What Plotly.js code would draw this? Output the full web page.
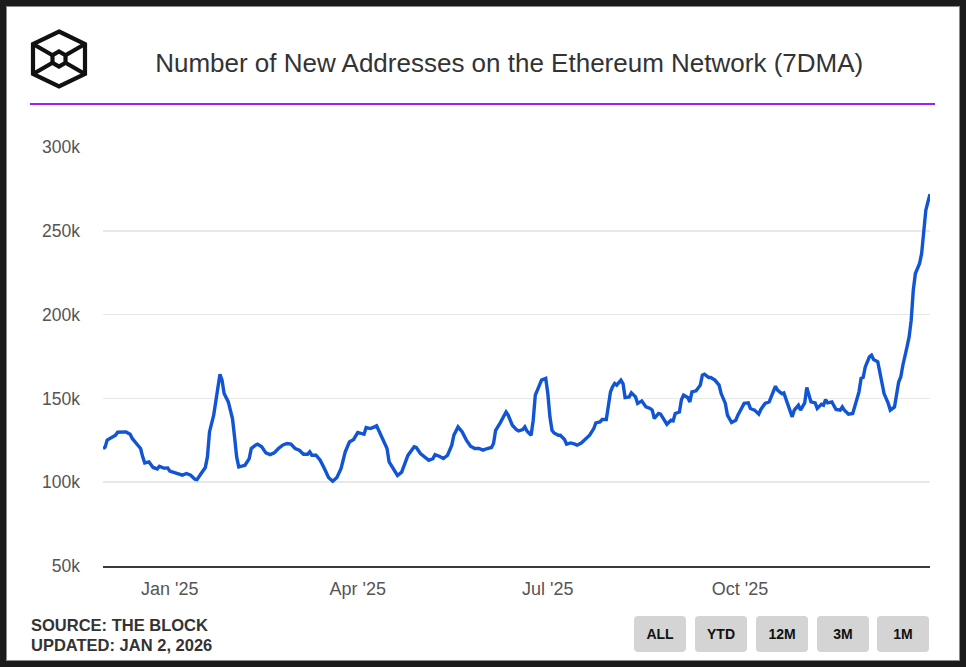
<!DOCTYPE html>
<html>
<head>
<meta charset="utf-8">
<script src="https://cdn.plot.ly/plotly-3.0.1.min.js"></script>
<style>
  html, body { margin:0; padding:0; width:966px; height:667px; background:#1b1b1b; overflow:hidden; font-family:"Liberation Sans", Arial, Helvetica, sans-serif; }
  #card { position:absolute; left:6px; top:6px; width:952px; height:653px; background:#fff; border:1px solid #8a8a8a; }
  #chart { position:absolute; left:6px; top:6px; width:953px; height:654px; }
  #logo { position:absolute; left:0; top:0; }
  #rule { position:absolute; left:30px; top:103px; width:905px; height:2px; background:#a020f0; }
  #source { position:absolute; left:31px; top:615px; font-weight:bold; font-size:16.5px; line-height:20px; color:#333; }
  .btn { position:absolute; top:616px; width:52px; height:36px; background:#d4d4d4; border-radius:4px; font-weight:bold; font-size:14px; color:#111; text-align:center; line-height:36px; }
</style>
</head>
<body>
<div id="card"></div>
<div id="chart"></div>
<svg id="logo" width="120" height="100">
  <g fill="none" stroke="#111" stroke-width="4.2" stroke-linejoin="miter">
    <path d="M59 31.5 L85 44 L85 74 L59 86.5 L33 74 L33 44 Z"/>
    <path d="M59 51.5 L65.5 55.2 L65.5 62.8 L59 66.5 L52.5 62.8 L52.5 55.2 Z"/>
    <path d="M33 44 L52.5 55.2 M85 44 L65.5 55.2 M33 74 L52.5 62.8 M85 74 L65.5 62.8"/>
  </g>
</svg>
<div id="rule"></div>
<div id="source">SOURCE: THE BLOCK<br>UPDATED: JAN 2, 2026</div>
<div class="btn" style="left:634px">ALL</div>
<div class="btn" style="left:695px">YTD</div>
<div class="btn" style="left:756px">12M</div>
<div class="btn" style="left:817px">3M</div>
<div class="btn" style="left:877px">1M</div>
<script>
// New addresses on Ethereum, 7-day moving average, thousands
const dates = [
'2024-11-30','2024-12-01','2024-12-02','2024-12-04','2024-12-06','2024-12-07','2024-12-10','2024-12-11','2024-12-13','2024-12-14',
'2024-12-16','2024-12-18','2024-12-19','2024-12-20','2024-12-22','2024-12-24','2024-12-26','2024-12-27','2024-12-29','2024-12-31',
'2025-01-01','2025-01-03','2025-01-06','2025-01-07','2025-01-09','2025-01-11','2025-01-13','2025-01-14','2025-01-16','2025-01-18',
'2025-01-19','2025-01-20','2025-01-22','2025-01-23','2025-01-25','2025-01-26','2025-01-27','2025-01-29','2025-01-31','2025-02-01',
'2025-02-02','2025-02-03','2025-02-04','2025-02-06','2025-02-08','2025-02-09','2025-02-11','2025-02-12','2025-02-14','2025-02-16',
'2025-02-18','2025-02-20','2025-02-22','2025-02-24','2025-02-26','2025-02-28','2025-03-02','2025-03-04','2025-03-06','2025-03-08',
'2025-03-09','2025-03-10','2025-03-12','2025-03-14','2025-03-16','2025-03-18','2025-03-20','2025-03-22','2025-03-24','2025-03-26',
'2025-03-28','2025-03-30','2025-04-01','2025-04-02','2025-04-04','2025-04-05','2025-04-07','2025-04-09','2025-04-10','2025-04-11',
'2025-04-13','2025-04-15','2025-04-16','2025-04-18','2025-04-20','2025-04-22','2025-04-24','2025-04-25','2025-04-28','2025-04-29',
'2025-05-01','2025-05-03','2025-05-05','2025-05-07','2025-05-08','2025-05-10','2025-05-12','2025-05-14','2025-05-16','2025-05-17',
'2025-05-19','2025-05-21','2025-05-23','2025-05-25','2025-05-27','2025-05-29','2025-05-31','2025-06-02','2025-06-04','2025-06-05',
'2025-06-06','2025-06-08','2025-06-09','2025-06-11','2025-06-12','2025-06-14','2025-06-16','2025-06-17','2025-06-19','2025-06-20',
'2025-06-21','2025-06-23','2025-06-24','2025-06-25','2025-06-27','2025-06-28','2025-06-30','2025-07-01','2025-07-02','2025-07-03',
'2025-07-04','2025-07-06','2025-07-07','2025-07-09','2025-07-10','2025-07-12','2025-07-14','2025-07-15','2025-07-17','2025-07-19',
'2025-07-21','2025-07-23','2025-07-24','2025-07-26','2025-07-27','2025-07-29','2025-07-30','2025-07-31','2025-08-01','2025-08-02',
'2025-08-03','2025-08-05','2025-08-06','2025-08-07','2025-08-09','2025-08-10','2025-08-12','2025-08-13','2025-08-15','2025-08-17',
'2025-08-19','2025-08-20','2025-08-21','2025-08-23','2025-08-24','2025-08-26','2025-08-27','2025-08-29','2025-08-30','2025-08-31',
'2025-09-02','2025-09-03','2025-09-04','2025-09-06','2025-09-07','2025-09-08','2025-09-10','2025-09-12','2025-09-13','2025-09-14',
'2025-09-16','2025-09-17','2025-09-19','2025-09-21','2025-09-22','2025-09-24','2025-09-25','2025-09-27','2025-09-29','2025-09-30',
'2025-10-02','2025-10-03','2025-10-05','2025-10-06','2025-10-08','2025-10-10','2025-10-11','2025-10-13','2025-10-15','2025-10-16',
'2025-10-18','2025-10-19','2025-10-21','2025-10-22','2025-10-23','2025-10-24','2025-10-26','2025-10-27','2025-10-29','2025-10-30',
'2025-11-01','2025-11-02','2025-11-03','2025-11-04','2025-11-06','2025-11-07','2025-11-09','2025-11-10','2025-11-11','2025-11-12',
'2025-11-14','2025-11-16','2025-11-18','2025-11-19','2025-11-20','2025-11-22','2025-11-24','2025-11-25','2025-11-27','2025-11-28',
'2025-11-29','2025-11-30','2025-12-02','2025-12-03','2025-12-04','2025-12-06','2025-12-07','2025-12-08','2025-12-09','2025-12-11',
'2025-12-12','2025-12-14','2025-12-15','2025-12-16','2025-12-17','2025-12-18','2025-12-20','2025-12-21','2025-12-22','2025-12-23',
'2025-12-24','2025-12-26','2025-12-27','2025-12-28','2025-12-29','2025-12-30','2025-12-31'
];
const newAddressesK = [
120.1,120.9,125.1,126.7,128.0,129.8,130.0,130.0,128.6,126.1,
123.1,120.1,115.1,111.5,112.1,108.8,107.9,109.5,108.4,108.5,
106.6,105.8,104.6,104.2,105.2,104.2,101.8,101.5,105.2,108.8,
115.1,130.0,140.0,148.9,164.4,160.9,152.9,147.9,138.0,127.0,
115.1,109.1,109.5,110.1,114.1,120.1,122.1,122.7,121.1,117.5,
116.5,117.5,120.1,122.1,123.1,122.7,120.1,119.1,116.7,116.7,
118.1,116.1,116.1,113.1,108.2,102.8,100.6,102.8,108.2,118.1,
124.0,125.5,129.7,129.5,128.6,132.6,132.0,133.0,133.6,131.0,
125.1,120.1,112.1,107.8,104.0,106.0,112.0,116.0,121.1,120.7,
117.1,115.1,113.1,114.1,116.5,115.5,114.1,116.1,122.1,128.0,
133.0,130.0,125.1,121.5,120.1,120.1,119.1,120.1,120.7,123.1,
131.0,135.0,137.0,141.9,140.0,134.0,131.4,130.6,131.4,133.0,
130.6,128.0,137.0,151.9,157.9,160.9,161.9,152.9,139.0,131.0,
129.4,128.0,128.0,125.5,122.7,123.4,122.7,122.1,123.4,125.5,
128.0,132.0,135.4,136.0,137.4,137.4,144.9,153.9,156.9,158.9,
157.9,160.9,158.9,150.5,150.9,153.3,150.9,147.0,148.5,144.9,
144.0,143.0,138.0,141.0,140.6,137.0,134.6,137.0,136.6,141.0,
141.9,149.3,151.9,150.5,147.9,153.9,154.5,157.9,163.8,164.4,
162.5,162.5,160.9,157.9,152.9,147.0,140.0,135.6,137.0,140.0,
144.6,147.0,147.3,144.0,143.0,140.6,143.4,147.0,147.9,151.3,
157.3,154.9,152.9,153.3,149.3,145.9,139.0,143.0,145.9,143.0,
147.3,156.5,152.9,147.9,147.3,144.0,146.5,145.9,149.3,147.3,
147.9,143.4,143.0,144.9,143.0,140.6,141.0,144.9,153.9,161.9,
162.5,168.8,174.8,175.8,173.2,171.8,165.8,158.9,152.9,147.0,
143.0,144.9,152.9,159.8,162.8,169.8,180.7,186.7,196.7,214.6,
224.5,230.5,236.5,248.4,262.3,267.2,271.8
];
const xTickVals = ['2025-01-01','2025-04-01','2025-07-01','2025-10-01'];
const xTickText = ["Jan '25","Apr '25","Jul '25","Oct '25"];
const yTickVals = [50,100,150,200,250,300];
const yTickText = ['50k','100k','150k','200k','250k','300k'];
const chartTitle = 'Number of New Addresses on the Ethereum Network (7DMA)';

const font = '"Liberation Sans", Arial, Helvetica, sans-serif';
Plotly.newPlot('chart', [{
  type:'scatter', mode:'lines', x:dates, y:newAddressesK,
  line:{color:'#1155d4', width:3.4}, hoverinfo:'x+y'
}], {
  width:953, height:654,
  paper_bgcolor:'rgba(0,0,0,0)', plot_bgcolor:'rgba(0,0,0,0)',
  margin:{l:97, r:29, t:141, b:94},
  showlegend:false,
  title:{text:chartTitle, x:0.528, xref:'container', xanchor:'center', y:0.913, yref:'container', yanchor:'middle',
         font:{family:font, size:26, color:'#333'}},
  xaxis:{type:'date', range:[dates[0], dates[dates.length-1]], tickvals:xTickVals, ticktext:xTickText,
         showgrid:false, zeroline:false, showline:true, linecolor:'#3a3a3a', linewidth:1.5, ticks:'',
         tickfont:{family:font, size:18, color:'#555'}, ticklabelstandoff:6},
  yaxis:{range:[50,300], tickvals:yTickVals, ticktext:yTickText, showgrid:true, gridcolor:'#e8e8e8', gridwidth:1.5,
         zeroline:false, showline:false, ticks:'', tickfont:{family:font, size:17.5, color:'#555'}, ticklabelstandoff:22}
}, {staticPlot:true});
</script>
</body>
</html>
